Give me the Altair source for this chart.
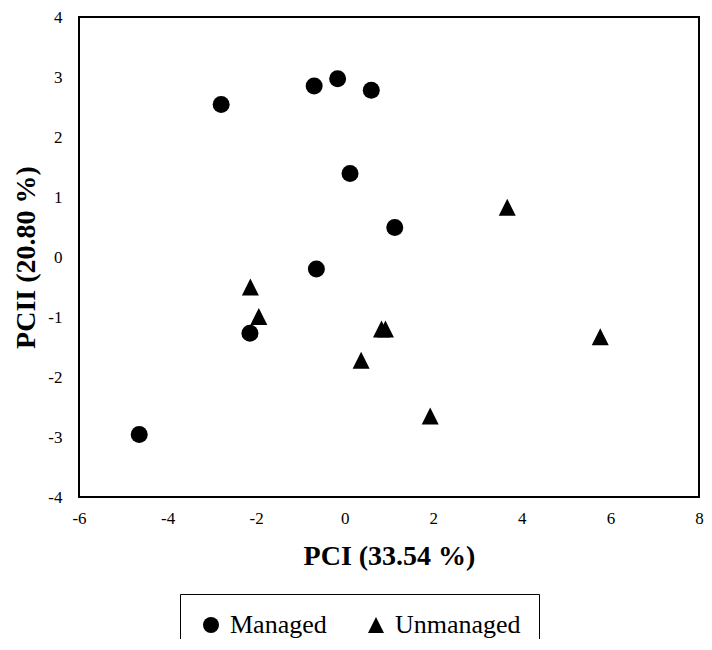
import altair as alt
import pandas as pd

managed_x = [-2.79, -0.69, -0.16, 0.60, 0.12, 1.13, -0.64, -2.14, -4.64]
managed_y = [2.54, 2.85, 2.97, 2.78, 1.39, 0.49, -0.20, -1.27, -2.96]
unmanaged_x = [-2.13, -1.94, 0.83, 0.92, 0.37, 1.93, 3.67, 5.77]
unmanaged_y = [-0.50, -0.99, -1.20, -1.20, -1.72, -2.65, 0.83, -1.33]
groups = ["Managed", "Unmanaged"]

df = pd.concat([
    pd.DataFrame({"x": managed_x, "y": managed_y, "group": groups[0]}),
    pd.DataFrame({"x": unmanaged_x, "y": unmanaged_y, "group": groups[1]}),
])

FONT = "Liberation Serif"
tri = "M-1,1L1,1L0,-1Z"

chart = alt.Chart(df).mark_point(filled=True, opacity=1, color="black", size=289).encode(
    x=alt.X("x:Q", scale=alt.Scale(domain=[-6, 8], nice=False, zero=False),
            axis=alt.Axis(title="PCI (33.54 %)", values=list(range(-6, 9, 2)),
                          labelExpr="'' + datum.value", grid=False, ticks=False, domain=False,
                          labelFlush=False, labelOverlap=False,
                          labelPadding=13, labelFontSize=17, labelFont=FONT, labelColor="black",
                          titleFont=FONT, titleFontSize=28, titleFontWeight="bold", titleColor="black",
                          titleBaseline="alphabetic", titleY=67)),
    y=alt.Y("y:Q", scale=alt.Scale(domain=[-4, 4], nice=False, zero=False),
            axis=alt.Axis(title="PCII (20.80 %)", values=list(range(-4, 5)),
                          labelExpr="'' + datum.value", grid=False, ticks=False, domain=False,
                          labelFlush=False, labelOverlap=False,
                          labelPadding=17, labelFontSize=17, labelFont=FONT, labelColor="black",
                          titleFont=FONT, titleFontSize=28, titleFontWeight="bold", titleColor="black",
                          titleBaseline="alphabetic", titleX=-45)),
    shape=alt.Shape("group:N", scale=alt.Scale(domain=groups, range=["circle", tri]),
                    legend=alt.Legend(title=None, orient="none", legendX=101, legendY=577,
                                      direction="horizontal", strokeColor="black", padding=18,
                                      labelFont=FONT, labelFontSize=26, labelColor="black",
                                      symbolSize=256, symbolFillColor="black", symbolStrokeColor="black",
                                      symbolStrokeWidth=0, labelOffset=6, columnPadding=36)),
).properties(
    width=620, height=480,
    autosize=alt.AutoSizeParams(type="none"),
    padding={"left": 71, "top": 9, "right": 5, "bottom": 142},
).configure_view(stroke="black", strokeWidth=2)

chart.save("out.html", embed_options={"renderer": "svg", "actions": False})
